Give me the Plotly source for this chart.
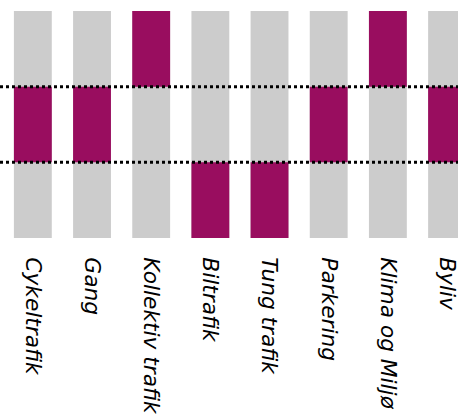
import plotly.graph_objects as go

# Topics and the band (0 = low, 1 = middle, 2 = high) each one falls in
categories = ["Cykeltrafik", "Gang", "Kollektiv trafik", "Biltrafik",
              "Tung trafik", "Parkering", "Klima og Miljø", "Byliv"]
levels = [1, 1, 2, 0, 0, 1, 2, 1]
band_count = 3
band_edges = [1, 2]

grey = "#cccccc"
magenta = "#990d5f"

fig = go.Figure()

# Full-height grey columns
fig.add_trace(go.Bar(
    x=categories,
    y=[band_count] * len(categories),
    base=[0] * len(categories),
    marker=dict(color=grey, line=dict(width=0)),
    width=0.64,
    hoverinfo="skip",
))

# Highlighted band for each topic
fig.add_trace(go.Bar(
    x=categories,
    y=[1] * len(categories),
    base=levels,
    marker=dict(color=magenta, line=dict(width=0)),
    width=0.64,
    hoverinfo="skip",
))

# Dotted separators between bands
for edge in band_edges:
    fig.add_shape(
        type="line", xref="paper", yref="y",
        x0=0, x1=1, y0=edge, y1=edge,
        line=dict(color="black", width=3, dash="dot"),
        layer="above",
    )

fig.update_layout(
    width=460, height=415,
    margin=dict(l=0, r=0, t=11, b=177),
    barmode="overlay",
    showlegend=False,
    plot_bgcolor="white",
    paper_bgcolor="white",
    font=dict(family="DejaVu Sans", size=21.7, color="black", style="italic"),
)
fig.update_xaxes(
    range=[-0.555, 7.185],
    tickangle=90,
    showgrid=False, zeroline=False, showline=False,
    ticks="outside", ticklen=14, tickcolor="rgba(0,0,0,0)",
)
fig.update_yaxes(
    range=[0, band_count],
    showgrid=False, zeroline=False, showline=False,
    showticklabels=False,
)

fig.write_html("out.html")
